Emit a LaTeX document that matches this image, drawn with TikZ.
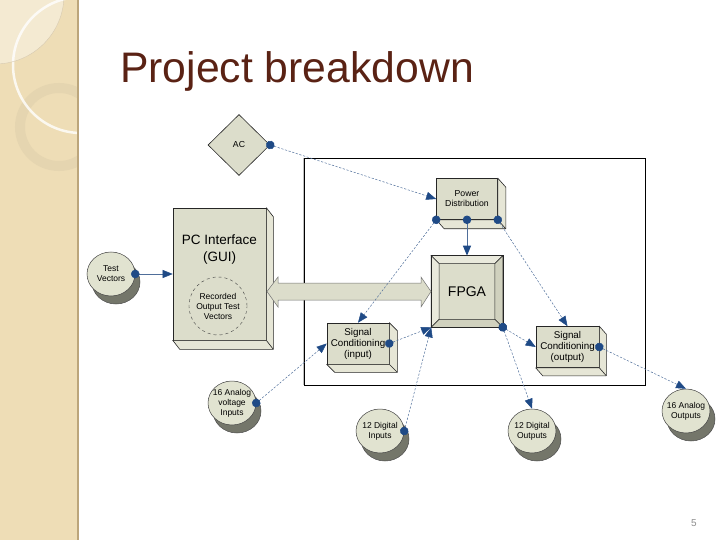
\documentclass[tikz,border=0pt]{standalone}
\usepackage{fontspec}
\setmainfont{Liberation Sans}
\usetikzlibrary{calc, positioning, shapes.geometric, shadows, arrows.meta}
\definecolor{SideBg}{HTML}{EEDDB6}
\definecolor{SideEdge}{HTML}{BBA57B}
\definecolor{SideLight}{HTML}{F4EAD2}
\definecolor{SideRing}{HTML}{E5D5B0}
\definecolor{TitleBrown}{HTML}{5A2214}
\definecolor{BoxFill}{HTML}{DCDDCB}
\definecolor{BoxSide}{HTML}{E6E6D6}
\definecolor{BevelLight}{HTML}{E9E9DC}
\definecolor{BevelDark}{HTML}{D0D1BE}
\definecolor{DiscFill}{HTML}{E1E3D0}
\definecolor{DiscShade}{HTML}{74766A}
\definecolor{WireBlue}{HTML}{4F6E9A}
\definecolor{DotBlue}{HTML}{1F4A86}

% 3-D depth of a box node: node, dx, dy
\newcommand{\boxdepth}[3]{%
  \filldraw[cubeside] (#1.north east) -- ++(#2,#3) -- ([shift={(#2,#3)}]#1.south east)
    -- ([shift={(#2,#3)}]#1.south west) -- (#1.south west) -- (#1.south east) -- cycle;
  \draw[cubeside] (#1.south east) -- ++(#2,#3);}

\tikzset{
  cube/.style={draw=black!85, fill=BoxFill, line width=0.6pt, align=center, inner sep=1pt,
    font=\fontsize{8.7}{10}\selectfont},
  cubeside/.style={draw=black!85, fill=BoxSide, line width=0.6pt, line join=round},
  disc/.style={ellipse, draw=black!75, fill=DiscFill, line width=0.5pt, minimum width=48pt,
    minimum height=44pt, inner sep=-3pt, align=center, font=\fontsize{8.5}{10}\selectfont,
    drop shadow={shadow xshift=5pt, shadow yshift=-8pt, fill=DiscShade, draw=black!70, opacity=1}},
  wire/.style={draw=WireBlue, line width=0.5pt, dash pattern=on 2.2pt off 1.6pt,
    {Circle[length=8.5pt, color=DotBlue]}-{Triangle[length=10pt, width=8pt, color=DotBlue]},
    shorten <=-4.25pt},
  feed/.style={wire, solid, line width=1pt},
}

\begin{document}
\begin{tikzpicture}[x=1pt, y=-1pt]
  \useasboundingbox (0,0) rectangle (720,540);

  % Side band
  \begin{scope}
    \fill[SideBg] (0,0) rectangle (78,540);
    \clip (0,0) rectangle (78,540);
    \fill[SideLight] (-5,-5) circle (69);
    \draw[SideRing, line width=10pt] (59,127) circle (39);
    \draw[white, line width=2.5pt, opacity=0.8] (81,65) circle (68);
    \draw[SideEdge!60, line width=0.4pt] (-5,-5) circle (69);
  \end{scope}
  \draw[SideEdge, line width=2pt] (78,0) -- (78,540);

  % Title
  \node[anchor=base west, text=TitleBrown, font=\fontsize{42.7}{50}\selectfont, inner sep=0pt]
    (title) at (120,83) {Project breakdown};

  % Board frame
  \node[draw=black, line width=0.7pt, minimum width=341pt, minimum height=227pt, inner sep=0pt]
    (board) at (474.5,271.5) {};
  \draw[black!25, line width=0.8pt] (board.north west) -- (board.south west);

  % Nodes
  \node[cube, diamond, aspect=1, minimum width=62pt, minimum height=61pt, inner sep=0pt]
    (ac) at (239,145) {AC};
  \node[cube, minimum width=61pt, minimum height=41pt] (pwr) at (467,199) {Power\\Distribution};
  \boxdepth{pwr}{8}{9}

  \node[cube, minimum width=71pt, minimum height=71pt, font=\fontsize{14}{16}\selectfont]
    (fpga) at (467,291.5) {FPGA};
  \fill[BevelLight, draw=black!85, line width=0.5pt] (fpga.north west) -- (fpga.north east)
    -- ([shift={(-8,8)}]fpga.north east) -- ([shift={(8,8)}]fpga.north west) -- cycle;
  \fill[BevelLight, draw=black!85, line width=0.5pt] (fpga.north west) -- (fpga.south west)
    -- ([shift={(8,-8)}]fpga.south west) -- ([shift={(8,8)}]fpga.north west) -- cycle;
  \fill[BevelDark, draw=black!85, line width=0.5pt] (fpga.north east) -- (fpga.south east)
    -- ([shift={(-8,-8)}]fpga.south east) -- ([shift={(-8,8)}]fpga.north east) -- cycle;
  \fill[BevelDark, draw=black!85, line width=0.5pt] (fpga.south west) -- (fpga.south east)
    -- ([shift={(-8,-8)}]fpga.south east) -- ([shift={(8,-8)}]fpga.south west) -- cycle;
  \draw[black!85, line width=0.6pt] (fpga.north west) rectangle (fpga.south east);

  \node[cube, minimum width=62pt, minimum height=41pt, font=\fontsize{9.8}{11}\selectfont]
    (scin) at (358,343.5) {Signal\\Conditioning\\(input)};
  \boxdepth{scin}{8}{8}
  \node[cube, minimum width=63pt, minimum height=41pt, font=\fontsize{9.8}{11}\selectfont]
    (scout) at (567.5,347) {Signal\\Conditioning\\(output)};
  \boxdepth{scout}{7}{8}

  \node[cube, minimum width=93pt, minimum height=132pt] (pc) at (219.5,274) {};
  \boxdepth{pc}{7}{9}
  \node[font=\fontsize{13.5}{17}\selectfont, align=center] (pctext) at (219.5,250)
    {PC Interface\\(GUI)};
  \node[circle, draw=black!75, dashed, minimum size=58pt, inner sep=0pt, align=center,
    font=\fontsize{8.5}{10}\selectfont] (rec) at (218,306) {Recorded\\Output Test\\Vectors};

  % Bus between PC and FPGA
  \draw[fill=BoxFill, draw=black!55, line width=0.5pt] (267,291.5) -- (278,277) -- (278,283)
    -- (421,283) -- (421,277) -- (431,291.5) -- (421,307) -- (421,300) -- (278,300)
    -- (278,307) -- cycle;

  \node[disc] (tv) at (111,274) {Test\\Vectors};
  \node[disc] (ain) at (232,403) {16 Analog\\voltage\\Inputs};
  \node[disc] (din) at (380,431) {12 Digital\\Inputs};
  \node[disc] (dout) at (532,431) {12 Digital\\Outputs};
  \node[disc] (aout) at (686,411) {16 Analog\\Outputs};

  \node[text=black!45, font=\fontsize{10}{12}\selectfont] (pageno) at (694,523) {5};

  % Paths
  \draw[wire] (ac.east) -- (pwr.west);
  \draw[wire] (pwr.south west) -- (scin.north);
  \draw[feed] (pwr.south) -- (fpga.north);
  \draw[wire] (pwr.south east) -- (scout.north);
  \draw[wire, solid] (tv.east) -- (pc.west);
  \draw[wire] (ain.east) -- (scin.west);
  \draw[wire] (scin.east) -- (fpga.south west);
  \draw[wire] (din.east) -- (fpga.south west);
  \draw[wire] (fpga.south east) -- (scout.west);
  \draw[wire] (fpga.south east) -- (dout.north);
  \draw[wire] (scout.east) -- (aout.north);
\end{tikzpicture}
\end{document}
